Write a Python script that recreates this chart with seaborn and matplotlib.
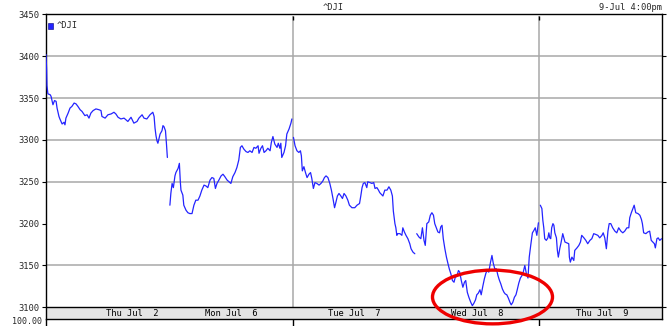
import numpy as np
import pandas as pd
import matplotlib
matplotlib.use("Agg")
import matplotlib.pyplot as plt
import seaborn as sns
from matplotlib.patches import Ellipse, Rectangle

sns.set_theme(style="white")
plt.rcParams["font.family"] = ["DejaVu Sans Mono", "DejaVu Sans"]

# ---- data (minutes after 9:30 open, price) ----
day_labels = ["Thu Jul  2", "Mon Jul  6", "Tue Jul  7", "Wed Jul  8", "Thu Jul  9"]
y_ticks = [3100, 3150, 3200, 3250, 3300, 3350, 3400, 3450]
grid_levels = [3150, 3250, 3300, 3350, 3400]

jul2_min = [0, 2, 3, 6, 13, 16, 22, 27, 32, 35, 41, 44, 51, 57, 60, 63, 70, 76, 82, 89,
            95, 101, 108, 114, 123, 130, 136, 142, 149, 158, 168, 174, 177, 187, 196, 206, 215, 221, 228, 237,
            247, 259, 269, 278, 288, 294, 304, 310, 319, 329, 338, 342, 345, 348, 351, 354, 361, 367, 370, 373,
            378, 381, 384]
jul2_px = [3402, 3384, 3365, 3355, 3354, 3352, 3342, 3347, 3346, 3338, 3328, 3325, 3319, 3321, 3318, 3326, 3332, 3338, 3340, 3344,
           3343, 3340, 3336, 3334, 3329, 3330, 3326, 3332, 3335, 3337, 3336, 3335, 3328, 3326, 3330, 3331, 3333, 3331, 3327, 3325,
           3326, 3322, 3327, 3320, 3322, 3326, 3330, 3326, 3325, 3330, 3333, 3328, 3314, 3305, 3299, 3296, 3307, 3311, 3317, 3316,
           3311, 3296, 3279]

jul6_min = [2, 5, 9, 13, 18, 21, 28, 32, 35, 37, 43, 46, 53, 59, 65, 72, 78, 84, 91, 97,
            103, 110, 116, 122, 129, 135, 141, 146, 151, 157, 164, 170, 176, 183, 189, 195, 201, 208, 214, 220,
            225, 230, 236, 243, 249, 255, 262, 268, 274, 281, 284, 290, 295, 300, 306, 312, 319, 323, 328, 334,
            341, 345, 350, 353, 356, 363, 368, 372, 379, 385, 388]
jul6_px = [3222, 3236, 3248, 3243, 3257, 3261, 3266, 3272, 3250, 3240, 3234, 3222, 3216, 3213, 3212, 3212, 3222, 3228, 3228, 3233,
           3240, 3246, 3245, 3243, 3252, 3255, 3254, 3242, 3248, 3252, 3257, 3259, 3256, 3252, 3250, 3248, 3256, 3261, 3267, 3276,
           3291, 3293, 3289, 3286, 3285, 3287, 3285, 3291, 3290, 3293, 3284, 3290, 3293, 3285, 3287, 3290, 3287, 3297, 3304, 3295,
           3291, 3296, 3290, 3296, 3279, 3285, 3293, 3307, 3313, 3320, 3325]

jul7_min = [3, 8, 14, 20, 25, 28, 31, 36, 41, 46, 52, 57, 61, 66, 71, 77, 84, 90, 96, 101,
            106, 112, 118, 123, 128, 133, 137, 142, 147, 153, 158, 163, 169, 175, 180, 188, 197, 204, 212, 216,
            220, 224, 229, 232, 235, 238, 245, 251, 257, 261, 267, 272, 276, 286, 292, 299, 305, 311, 316, 319,
            324, 327, 330, 333, 340, 346, 349, 354, 359, 365, 371, 375, 381, 387]
jul7_px = [3303, 3293, 3287, 3285, 3287, 3281, 3263, 3268, 3261, 3255, 3259, 3261, 3254, 3242, 3249, 3248, 3246, 3248, 3251, 3255,
           3257, 3255, 3248, 3240, 3230, 3219, 3225, 3233, 3236, 3233, 3230, 3236, 3233, 3228, 3222, 3219, 3219, 3222, 3224, 3233,
           3243, 3248, 3249, 3246, 3243, 3250, 3249, 3248, 3249, 3242, 3243, 3240, 3237, 3233, 3240, 3240, 3244, 3240, 3233, 3215,
           3200, 3195, 3186, 3188, 3188, 3186, 3195, 3190, 3186, 3182, 3176, 3170, 3166, 3164]

jul8_min = [3, 10, 16, 21, 26, 30, 35, 41, 46, 51, 56, 60, 65, 70, 75, 79, 83, 87, 92, 97,
            102, 106, 111, 116, 121, 125, 130, 135, 139, 144, 149, 154, 158, 163, 168, 174, 179, 184, 189, 193,
            198, 203, 207, 212, 217, 222, 226, 231, 236, 241, 245, 250, 255, 260, 264, 269, 274, 279, 283, 288,
            293, 298, 302, 307, 312, 317, 321, 326, 331, 336, 340, 345, 350, 355, 359, 364, 369, 374, 378, 383, 388]
jul8_px = [3188, 3184, 3182, 3195, 3180, 3174, 3200, 3202, 3210, 3213, 3210, 3200, 3195, 3190, 3189, 3196, 3198, 3182, 3170, 3160,
           3152, 3146, 3140, 3132, 3130, 3136, 3137, 3144, 3142, 3132, 3124, 3130, 3132, 3118, 3112, 3106, 3102, 3105, 3109, 3115,
           3117, 3121, 3115, 3125, 3134, 3141, 3144, 3142, 3153, 3162, 3153, 3146, 3146, 3138, 3133, 3128, 3122, 3118, 3116, 3115,
           3111, 3106, 3103, 3106, 3112, 3115, 3121, 3129, 3135, 3138, 3142, 3150, 3140, 3135, 3160, 3175, 3189, 3192, 3195, 3186, 3201]

jul9_min = [4, 9, 12, 15, 18, 23, 28, 31, 34, 37, 40, 44, 47, 50, 55, 58, 61, 66, 69, 72,
            75, 82, 88, 94, 96, 99, 104, 110, 113, 120, 126, 131, 135, 142, 148, 154, 161, 167, 173, 180,
            186, 192, 199, 203, 208, 213, 218, 222, 227, 233, 240, 246, 252, 259, 265, 271, 278, 284, 287, 292,
            297, 301, 306, 313, 319, 324, 327, 331, 338, 344, 350, 355, 360, 365, 368, 373, 377, 382, 388]
jul9_px = [3222, 3218, 3204, 3195, 3182, 3180, 3183, 3189, 3183, 3182, 3195, 3200, 3198, 3189, 3183, 3168, 3160, 3171, 3176, 3182,
           3188, 3178, 3177, 3176, 3160, 3154, 3160, 3156, 3168, 3171, 3174, 3178, 3186, 3183, 3180, 3176, 3180, 3182, 3188, 3187,
           3186, 3183, 3186, 3189, 3183, 3170, 3191, 3200, 3200, 3195, 3191, 3189, 3195, 3191, 3189, 3191, 3195, 3195, 3207, 3213,
           3218, 3222, 3213, 3212, 3210, 3205, 3200, 3189, 3188, 3190, 3191, 3180, 3178, 3176, 3171, 3182, 3183, 3180, 3182]

minutes = [jul2_min, jul6_min, jul7_min, jul8_min, jul9_min]
prices = [jul2_px, jul6_px, jul7_px, jul8_px, jul9_px]
SESSION = 390.0

frames = []
for i, (m, p) in enumerate(zip(minutes, prices)):
    frames.append(pd.DataFrame({"t": i + np.asarray(m) / SESSION, "price": p, "day": i}))
df = pd.concat(frames, ignore_index=True)

# ---- layout ----
W, H = 668, 326
fig = plt.figure(figsize=(W / 100, H / 100), dpi=100)
ax_l, ax_r, ax_t, ax_b = 46, 662.3, 14.3, 319
ax = fig.add_axes([ax_l / W, 1 - ax_b / H, (ax_r - ax_l) / W, (ax_b - ax_t) / H])

px_per_50 = 42.06
ymax = 3448.3
ymin = ymax - (ax_b - ax_t) / px_per_50 * 50
ax.set_xlim(0, 5)
ax.set_ylim(ymin, ymax)

line_color = "#2424ff"
grid_color = "#a8a8a8"

ax.grid(False)
ax.hlines(grid_levels, 0, 5, color=grid_color, lw=1.1, zorder=0)
ax.vlines([2, 4], 3100, ymax, color=grid_color, lw=1.1, zorder=0)

sns.lineplot(data=df, x="t", y="price", units="day", estimator=None, sort=False,
             color=line_color, lw=0.9, ax=ax, zorder=3)

# date band at the bottom
ax.axhspan(ymin, 3100, color="#e4e4e4", zorder=1, lw=0)
ax.axhline(3100, color="black", lw=1.0, zorder=2)
label_pos = [0.70, 1.5, 2.5, 3.5, 4.51]
for pos, lab in zip(label_pos, day_labels):
    ax.text(pos, (ymin + 3100) / 2, lab, ha="center", va="center", fontsize=6.3,
            color="black", zorder=4)

# ticks
ax.set_xticks([])
ax.set_yticks(y_ticks)
ax.set_yticklabels([str(v) for v in y_ticks])
ax.tick_params(axis="y", left=True, right=True, labelleft=True, labelright=False,
               direction="out", length=3, width=0.8, color="black", labelsize=6.3, pad=1.5)
ax.vlines([2, 4], ymax - 5, ymax, color="black", lw=1.0, zorder=5)
ax.vlines([0, 2, 4], ymin - 8.5, ymin, color="black", lw=1.0, clip_on=False, zorder=5)
ax.set_xlabel("")
ax.set_ylabel("")
for s in ax.spines.values():
    s.set_color("black")
    s.set_linewidth(1.0)

# legend marker
axw, axh = ax_r - ax_l, ax_b - ax_t
ax.add_patch(Rectangle(((48 - ax_l) / axw, 1 - (28.5 - ax_t) / axh), 5 / axw, 5.5 / axh,
                       transform=ax.transAxes, facecolor=line_color, edgecolor="#000080",
                       lw=0.4, zorder=5))
ax.text((57 - ax_l) / axw, 1 - (26 - ax_t) / axh, "^DJI", transform=ax.transAxes,
        ha="left", va="center", fontsize=6.3, zorder=5)

# annotation ellipse
ell_cx = (492.5 - ax_l) / (axw / 5)
ell_w = 120 / (axw / 5)
ell_cy = 3100 + (307.4 - 297) * 50 / px_per_50
ell_h = 54 * 50 / px_per_50
ax.add_patch(Ellipse((ell_cx, ell_cy), ell_w, ell_h, fill=False, edgecolor="#ee0000",
                     lw=2.4, clip_on=False, zorder=6))

# header texts
fig.text(333 / W, 1 - 7 / H, "^DJI", ha="center", va="center", fontsize=6.3)
fig.text(662 / W, 1 - 7 / H, "9-Jul 4:00pm", ha="right", va="center", fontsize=6.3)
fig.text(42 / W, 0.0, "100.00", ha="right", va="bottom", fontsize=6.0)

fig.savefig("out.png", dpi=100)
